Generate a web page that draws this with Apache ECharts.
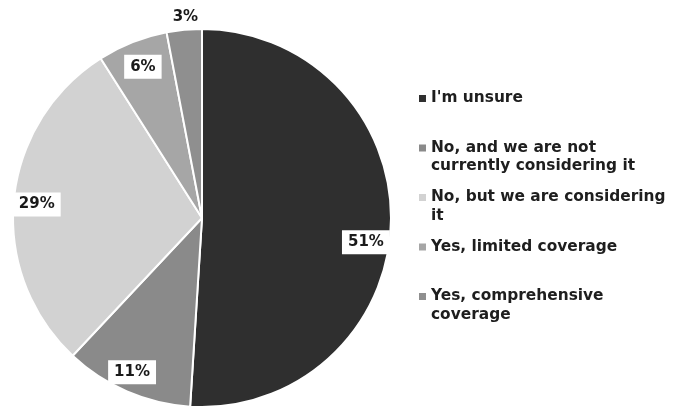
<!DOCTYPE html>
<html>
<head>
<meta charset="utf-8">
<script src="https://cdn.jsdelivr.net/npm/echarts@6/dist/echarts.min.js"></script>
<style>
  html, body { margin: 0; padding: 0; background: #ffffff; }
  #chart { width: 679px; height: 412px; }
</style>
</head>
<body>
<div id="chart"></div>
<script>
const categories = [
  "I'm unsure",
  "No, and we are not currently considering it",
  "No, but we are considering it",
  "Yes, limited coverage",
  "Yes, comprehensive coverage"
];
const values = [51, 11, 29, 6, 3];
const legendLabels = [
  "I'm unsure\n ",
  "No, and we are not\ncurrently considering it",
  "No, but we are considering\nit",
  "Yes, limited coverage\n ",
  "Yes, comprehensive\ncoverage"
];
const colors = ['#2f2f2f', '#8a8a8a', '#d2d2d2', '#a6a6a6', '#8f8f8f'];
const labelOffsets = [[-2, 19], [-4, 2], [0, 2], [2, 3], [-1, -36]];

const chart = echarts.init(document.getElementById('chart'), null, { renderer: 'canvas' });

const pieData = categories.map((name, i) => ({ name: name, value: values[i], itemStyle: { color: colors[i] } }));
const labelData = categories.map((name, i) => ({ name: name, value: values[i], label: { offset: labelOffsets[i] } }));

const fontFamily = '"DejaVu Sans", sans-serif';

chart.setOption({
  backgroundColor: '#ffffff',
  animation: false,
  legend: {
    orient: 'vertical',
    left: 419,
    top: 89,
    padding: 0,
    itemGap: 12.5,
    itemWidth: 7,
    itemHeight: 37,
    icon: 'path://M0,0h0.1v0.1h-0.1zM0,6h7v7h-7zM0,37h0.1v0.1h-0.1z',
    itemStyle: { borderWidth: 0 },
    selectedMode: false,
    data: categories,
    formatter: function (name) { return legendLabels[categories.indexOf(name)]; },
    textStyle: {
      fontFamily: fontFamily,
      fontWeight: 'bold',
      fontSize: 15.4,
      lineHeight: 18.5,
      color: '#1e1e1e'
    }
  },
  series: [
    {
      type: 'pie',
      center: [202, 218],
      radius: [0, 189],
      startAngle: 90,
      clockwise: true,
      label: { show: false },
      labelLine: { show: false },
      itemStyle: { borderColor: '#ffffff', borderWidth: 2 },
      emphasis: { disabled: true },
      data: pieData
    },
    {
      type: 'pie',
      center: [202, 218],
      radius: [137, 189],
      startAngle: 90,
      clockwise: true,
      silent: true,
      itemStyle: { color: 'rgba(0,0,0,0)' },
      labelLine: { show: false },
      emphasis: { disabled: true },
      label: {
        show: true,
        position: 'inside',
        formatter: '{c}%',
        fontFamily: fontFamily,
        fontWeight: 'bold',
        fontSize: 15,
        color: '#1a1a1a',
        backgroundColor: '#ffffff',
        padding: [5, 6, 4, 6]
      },
      data: labelData
    }
  ]
});
</script>
</body>
</html>
